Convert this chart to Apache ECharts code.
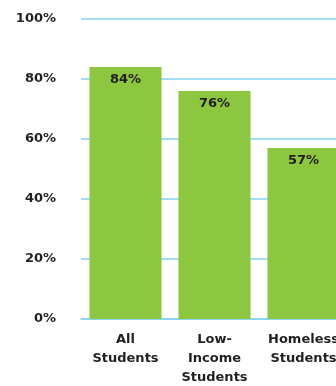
<!DOCTYPE html>
<html><head><meta charset="utf-8">
<script src="https://cdn.jsdelivr.net/npm/echarts@6/dist/echarts.min.js"></script>
<style>html,body{margin:0;padding:0;background:#fff}#c{width:336px;height:386px}</style>
</head><body><div id="c"></div>
<script>
const categories = ["All\nStudents", "Low-\nIncome\nStudents", "Homeless\nStudents"];
const values = [84, 76, 57];
const yTicks = [0, 20, 40, 60, 80, 100];

const chart = echarts.init(document.getElementById('c'), null, {renderer: 'canvas'});
const font = '"DejaVu Sans", sans-serif';
chart.setOption({
  animation: false,
  grid: {left: 81, top: 19, width: 267, height: 300, containLabel: false, outerBoundsMode: 'none'},
  xAxis: {
    type: 'category', data: categories,
    axisLine: {show: true, lineStyle: {color: '#86d2f2', width: 1.5}},
    axisTick: {show: false},
    axisLabel: {color: '#231f20', fontFamily: font, fontWeight: 'bold', fontSize: 13, lineHeight: 19, margin: 11, interval: 0, hideOverlap: false}
  },
  yAxis: {
    type: 'value', min: 0, max: 100, interval: 20,
    axisLine: {show: false}, axisTick: {show: false},
    splitLine: {lineStyle: {color: '#86d2f2', width: 1.5}},
    axisLabel: {color: '#231f20', fontFamily: font, fontWeight: 'bold', fontSize: 13, margin: 25,
      formatter: v => yTicks.includes(v) ? v + '%' : ''}
  },
  series: [{
    type: 'bar', data: values, barCategoryGap: '19%',
    itemStyle: {color: '#8dc63f'},
    label: {show: true, position: 'insideTop', distance: 6, color: '#231f20', fontFamily: font, fontWeight: 'bold', fontSize: 13, formatter: '{c}%'}
  }]
});
</script></body></html>
